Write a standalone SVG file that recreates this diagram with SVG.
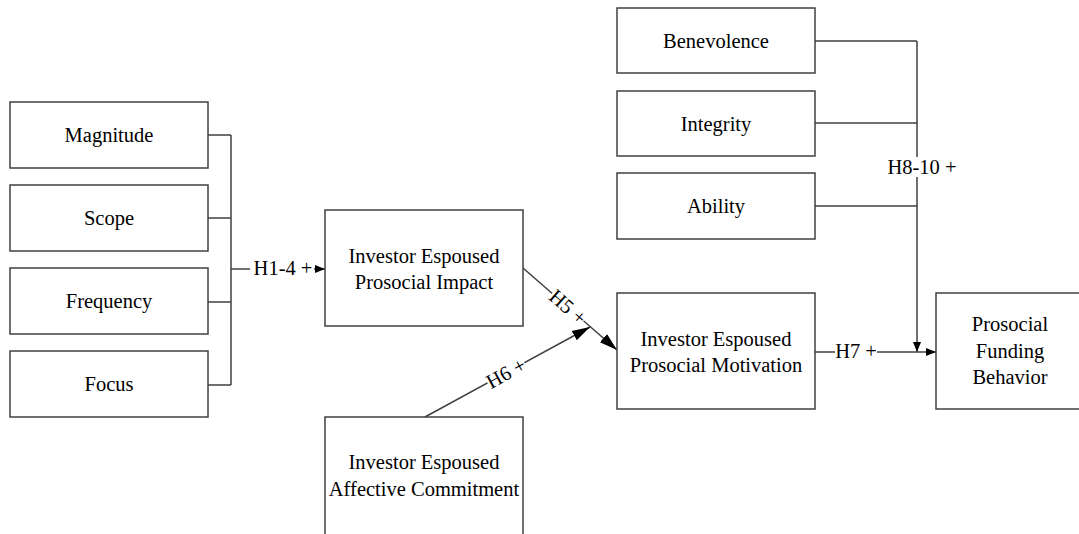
<svg xmlns="http://www.w3.org/2000/svg" width="1079" height="534" viewBox="0 0 1079 534" font-family="'Liberation Serif','DejaVu Serif',serif">
<style>
.box{fill:#fff;stroke:#404040;stroke-width:1.5}
.ln{fill:none;stroke:#404040;stroke-width:1.5}
text{font-family:'Liberation Serif','Times New Roman','DejaVu Serif',serif;font-size:20.5px;fill:#000;text-anchor:middle;dominant-baseline:central}
.lbl{fill:#fff;stroke:none}
</style>
<defs>
<marker id="ar" viewBox="0 0 10 10" refX="10" refY="5" markerWidth="10" markerHeight="10" markerUnits="userSpaceOnUse" orient="auto"><path d="M0,1 L10,5 L0,9 z" fill="#000"/></marker>
<marker id="arL" viewBox="0 0 10 10" refX="10" refY="5" markerWidth="18" markerHeight="18" markerUnits="userSpaceOnUse" orient="auto"><path d="M0,2 L10,5 L0,8 z" fill="#000"/></marker>
</defs>
<g id="connectors">
<path class="ln" d="M208,135 H231 M208,218 H231 M208,302 H231 M208,385 H231 M231,135 V385"/>
<path class="ln" d="M231,269 H325" marker-end="url(#ar)"/>
<rect class="lbl" x="250" y="259" width="64" height="20"/>
<text x="283" y="268">H1-4 +</text>
<path class="ln" d="M523,268 L617,350" marker-end="url(#arL)"/>
<g transform="translate(568,307) rotate(41)"><rect class="lbl" x="-21" y="-9" width="42" height="18"/><text x="0" y="0">H5 +</text></g>
<path class="ln" d="M425,417 L590,327" marker-end="url(#arL)"/>
<g transform="translate(506,373) rotate(-28.6)"><rect class="lbl" x="-21" y="-9" width="42" height="18"/><text x="0" y="0">H6 +</text></g>
<path class="ln" d="M815,41 H917 M815,123 H917 M815,206 H917 M917,41 V352" marker-end="url(#ar)"/>
<path class="ln" d="M815,352 H936" marker-end="url(#ar)"/>
<rect class="lbl" x="835" y="342" width="42" height="20"/>
<text x="856" y="351">H7 +</text>
<rect class="lbl" x="886" y="157" width="72" height="20"/>
<text x="922" y="167">H8-10 +</text>
</g>
<g id="magnitude"><rect class="box" x="10" y="102" width="198" height="66"/><text x="109" y="135">Magnitude</text></g>
<g id="scope"><rect class="box" x="10" y="185" width="198" height="66"/><text x="109" y="218">Scope</text></g>
<g id="frequency"><rect class="box" x="10" y="268" width="198" height="66"/><text x="109" y="301">Frequency</text></g>
<g id="focus"><rect class="box" x="10" y="351" width="198" height="66"/><text x="109" y="384">Focus</text></g>
<g id="impact"><rect class="box" x="325" y="210" width="198" height="116"/><text x="424" y="256">Investor Espoused</text><text x="424" y="282">Prosocial Impact</text></g>
<g id="commitment"><rect class="box" x="325" y="417" width="198" height="118"/><text x="424" y="462">Investor Espoused</text><text x="424" y="489">Affective Commitment</text></g>
<g id="motivation"><rect class="box" x="617" y="293" width="198" height="116"/><text x="716" y="339">Investor Espoused</text><text x="716" y="365">Prosocial Motivation</text></g>
<g id="benevolence"><rect class="box" x="617" y="8" width="198" height="65"/><text x="716" y="41">Benevolence</text></g>
<g id="integrity"><rect class="box" x="617" y="91" width="198" height="65"/><text x="716" y="124">Integrity</text></g>
<g id="ability"><rect class="box" x="617" y="173" width="198" height="66"/><text x="716" y="206">Ability</text></g>
<g id="behavior"><rect class="box" x="936" y="293" width="150" height="116"/><text x="1010" y="324">Prosocial</text><text x="1010" y="351">Funding</text><text x="1010" y="377">Behavior</text></g>
</svg>
